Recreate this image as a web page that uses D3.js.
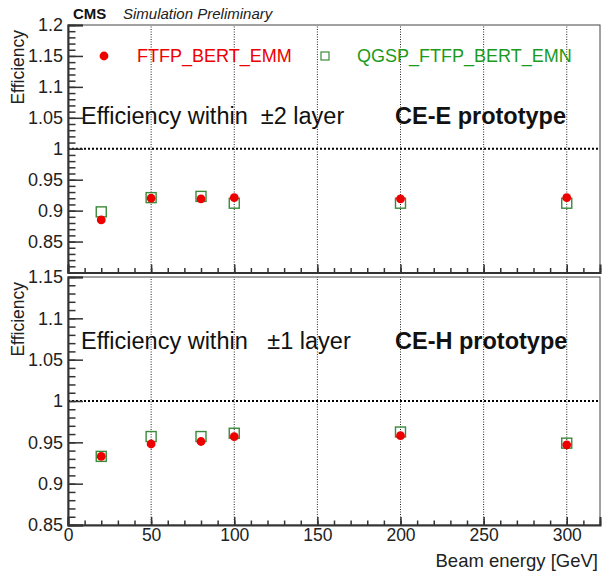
<!DOCTYPE html>
<html>
<head>
<meta charset="utf-8">
<script src="https://cdn.jsdelivr.net/npm/d3@7"></script>
<style>
body{margin:0;background:#fff;}
svg{display:block;font-family:"Liberation Sans",Arial,Helvetica,sans-serif;}
</style>
</head>
<body>
<svg id="c" width="602" height="572"></svg>
<script>
const energies = [20, 50, 80, 100, 200, 300];
const ceE_FTFP = [0.885, 0.920, 0.919, 0.921, 0.919, 0.921];
const ceE_QGSP = [0.898, 0.921, 0.923, 0.912, 0.912, 0.912];
const ceH_FTFP = [0.933, 0.948, 0.951, 0.957, 0.958, 0.947];
const ceH_QGSP = [0.933, 0.957, 0.957, 0.961, 0.9625, 0.949];
const xTicks = [0, 50, 100, 150, 200, 250, 300];
const yTicksTop = [0.85, 0.9, 0.95, 1, 1.05, 1.1, 1.15, 1.2];
const yTicksBot = [0.85, 0.9, 0.95, 1, 1.05, 1.1, 1.15];
const seriesNames = ["FTFP_BERT_EMM", "QGSP_FTFP_BERT_EMN"];

const svg = d3.select("#c");
const red = "#ee0000", green = "#1c9a1c", sqStroke = "#3a8a3a";
const x = d3.scaleLinear().domain([0, 320]).range([68, 600]);

const panels = [
  {y: d3.scaleLinear().domain([0.8, 1.2]).range([272.5, 25]), ticks: yTicksTop, dom: [0.8, 1.2],
   a: ceE_FTFP, b: ceE_QGSP, label: "Efficiency within  \u00b12 layer", proto: "CE-E prototype", textY: 124, xlabels: false, legend: true},
  {y: d3.scaleLinear().domain([0.85, 1.15]).range([525, 277]), ticks: yTicksBot, dom: [0.85, 1.15],
   a: ceH_FTFP, b: ceH_QGSP, label: "Efficiency within   \u00b11 layer", proto: "CE-H prototype", textY: 349, xlabels: true, legend: false}
];

panels.forEach(p => {
  const y = p.y;
  const g = svg.append("g");
  const [y0, y1] = y.range();
  // vertical grid
  g.selectAll("line.grid").data(xTicks.filter(t => t > 0)).enter().append("line")
    .attr("x1", d => x(d)).attr("x2", d => x(d)).attr("y1", y0).attr("y2", y1)
    .attr("stroke", "#222").attr("stroke-width", 1).attr("stroke-dasharray", "1,1.5");
  // dotted line at 1
  g.append("line").attr("x1", x(0)).attr("x2", x(320)).attr("y1", y(1)).attr("y2", y(1))
    .attr("stroke", "#000").attr("stroke-width", 1.8).attr("stroke-dasharray", "2,2");
  // frame
  g.append("rect").attr("x", x(0)).attr("y", y1).attr("width", x(320) - x(0)).attr("height", y0 - y1)
    .attr("fill", "none").attr("stroke", "#444").attr("stroke-width", 1);
  // axes
  const ay = d3.axisLeft(y).tickValues(p.ticks).tickSize(-15).tickPadding(5)
    .tickFormat(d => d3.format("~g")(d));
  const ya = g.append("g").attr("transform", `translate(${x(0)},0)`).call(ay);
  const minorY = d3.range(Math.round(p.dom[0] * 100), Math.round(p.dom[1] * 100) + 1).map(v => v / 100);
  g.append("g").attr("transform", `translate(${x(0)},0)`)
    .call(d3.axisLeft(y).tickValues(minorY).tickSize(-7.5).tickFormat(""))
    .call(s => s.select(".domain").remove());
  const ax = d3.axisBottom(x).tickValues(xTicks).tickSize(-8).tickPadding(4).tickFormat(p.xlabels ? d3.format("d") : "");
  const xa = g.append("g").attr("transform", `translate(0,${y0})`).call(ax);
  g.append("g").attr("transform", `translate(0,${y0})`)
    .call(d3.axisBottom(x).tickValues(d3.range(0, 321, 10)).tickSize(-4.5).tickFormat(""))
    .call(s => s.select(".domain").remove());
  g.selectAll(".domain").attr("stroke", "#333").attr("stroke-width", 2);
  g.selectAll(".tick line").attr("stroke", "#333").attr("stroke-width", 1.5);
  g.selectAll(".tick text").attr("font-size", 18).attr("fill", "#222")
    .attr("font-family", "Liberation Sans, Arial, sans-serif");
  ya.selectAll(".tick text").attr("x", -5);
  xa.selectAll(".tick text").attr("y", 4).attr("dy", "0.71em").attr("font-size", 17.5);

  // y title
  g.append("text").attr("transform", `translate(24,${y1 + 5}) rotate(-90)`).attr("text-anchor", "end")
    .attr("font-size", 17.5).attr("fill", "#222").text("Efficiency");

  // points: QGSP squares
  const sq = 10;
  g.selectAll("rect.q").data(energies).enter().append("rect")
    .attr("x", (d, i) => x(d) - sq / 2).attr("y", (d, i) => y(p.b[i]) - sq / 2)
    .attr("width", sq).attr("height", sq).attr("fill", "none").attr("stroke", sqStroke).attr("stroke-width", 1.4);
  g.selectAll("circle.f").data(energies).enter().append("circle")
    .attr("cx", d => x(d)).attr("cy", (d, i) => y(p.a[i])).attr("r", 4.4).attr("fill", red);

  // texts
  g.append("text").attr("x", 81).attr("y", p.textY).attr("font-size", 23.5).attr("fill", "#111")
    .style("white-space", "pre").text(p.label);
  g.append("text").attr("x", 395).attr("y", p.textY).attr("font-size", 23.5).attr("font-weight", "bold").attr("fill", "#111")
    .text(p.proto);

  if (p.legend) {
    g.append("circle").attr("cx", 104).attr("cy", 56).attr("r", 4.4).attr("fill", red);
    g.append("text").attr("x", 137).attr("y", 62).attr("font-size", 18).attr("fill", red).text(seriesNames[0]);
    g.append("rect").attr("x", 321).attr("y", 52).attr("width", 8).attr("height", 8)
      .attr("fill", "none").attr("stroke", sqStroke).attr("stroke-width", 1.2);
    g.append("text").attr("x", 357).attr("y", 62).attr("font-size", 18).attr("fill", green).text(seriesNames[1]);
  }
});

// header
svg.append("text").attr("x", 73).attr("y", 19).attr("font-size", 15).attr("font-weight", "bold").attr("fill", "#111").text("CMS");
svg.append("text").attr("x", 123).attr("y", 19).attr("font-size", 15).attr("font-style", "italic").attr("fill", "#222").text("Simulation Preliminary");
// x title
svg.append("text").attr("x", 598).attr("y", 567).attr("text-anchor", "end").attr("font-size", 18.5).attr("fill", "#222").text("Beam energy [GeV]");
</script>
</body>
</html>
